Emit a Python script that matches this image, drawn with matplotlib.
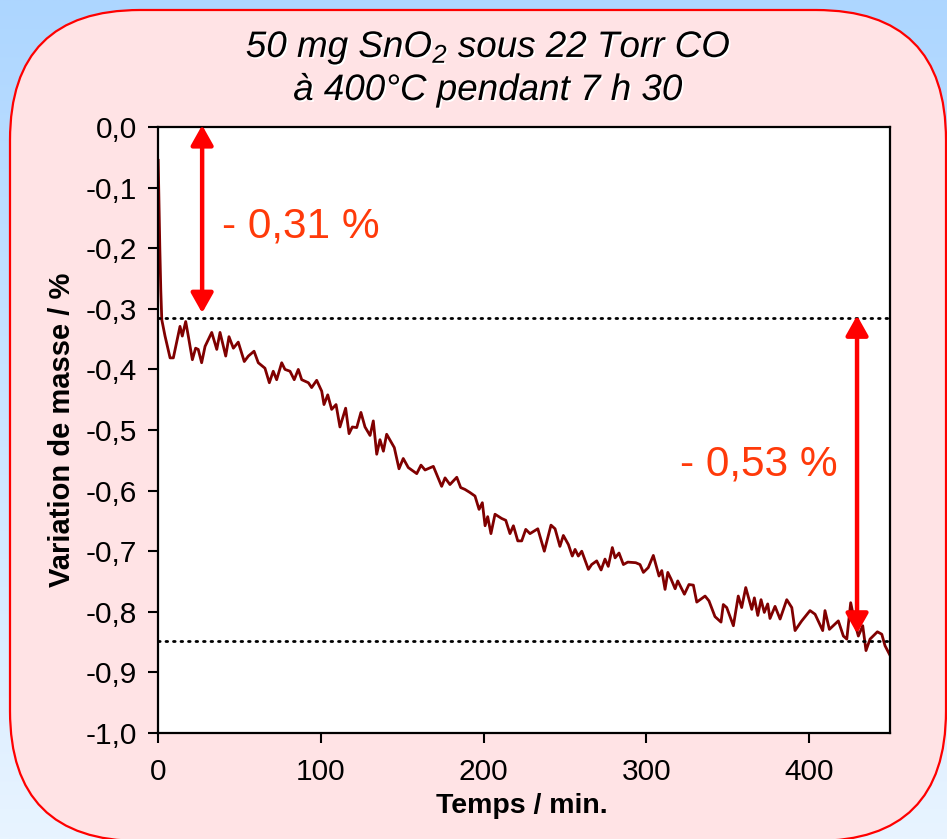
import numpy as np
import matplotlib
matplotlib.use("Agg")
import matplotlib.pyplot as plt
from matplotlib.patches import FancyBboxPatch, FancyArrowPatch
import matplotlib.patheffects as pe

plt.rcParams['font.family'] = ['Liberation Sans', 'DejaVu Sans']
plt.rcParams['mathtext.fontset'] = 'custom'
plt.rcParams['mathtext.rm'] = 'Liberation Sans:italic'
plt.rcParams['mathtext.it'] = 'Liberation Sans:italic'

# ---------------- data ----------------
time_min = [0, 0.3, 1.0, 1.6, 2.2, 4.2, 7.3, 9.3, 13.4, 14.8, 16.9, 18.5, 21.0, 23.0, 24.6, 26.7,
            28.8, 32.9, 36.0, 38.0, 41.5, 43.5, 46.2, 49.2, 52.9, 55.4, 58.9, 61.5, 65.6, 68.3,
            70.7, 72.8, 75.9, 77.9, 81.0, 83.6, 86.1, 88.2, 92.3, 94.3, 97.4, 100.5, 101.9, 104.2,
            106.6, 109.3, 111.7, 115.2, 117.3, 119.3, 122.0, 124.6, 127.1, 130.2, 132.2, 134.3,
            136.3, 138.4, 140.4, 145.1, 148.0, 150.6, 153.7, 158.9, 161.5, 164.0, 169.1, 174.2,
            176.3, 179.3, 183.5, 185.9, 188.5, 191.5, 194.7, 197.2, 199.2, 200.9, 202.5, 204.5,
            207.0, 211.1, 213.6, 216.2, 218.3, 221.0, 223.4, 225.9, 228.5, 233.3, 237.3, 241.4,
            243.9, 246.9, 249.0, 252.1, 254.5, 256.2, 258.2, 260.3, 264.4, 266.4, 269.5, 272.2,
            274.6, 276.6, 279.1, 280.8, 283.2, 285.9, 288.6, 293.5, 296.1, 298.2, 301.2, 304.3,
            307.8, 309.5, 311.5, 313.2, 315.2, 317.7, 319.3, 323.4, 326.2, 328.9, 331.0, 336.1,
            338.5, 342.2, 345.9, 347.3, 349.4, 353.5, 356.5, 358.6, 361.1, 364.8, 366.4, 368.5,
            370.5, 372.5, 374.6, 376.0, 379.1, 382.2, 386.3, 389.4, 391.4, 395.5, 400.6, 403.7,
            408.4, 409.8, 412.5, 418.0, 421.1, 423.2, 425.6, 428.3, 430.3, 433.0, 435.0, 437.5,
            442.0, 444.7, 446.7, 450.0]
mass_var = [-0.055, -0.10, -0.20, -0.27, -0.318, -0.345, -0.381, -0.381, -0.329, -0.345, -0.321,
            -0.345, -0.384, -0.365, -0.367, -0.389, -0.362, -0.339, -0.367, -0.339, -0.378, -0.346,
            -0.365, -0.355, -0.387, -0.378, -0.370, -0.389, -0.398, -0.422, -0.403, -0.417, -0.389,
            -0.400, -0.403, -0.417, -0.400, -0.417, -0.422, -0.430, -0.418, -0.436, -0.458, -0.442,
            -0.466, -0.458, -0.495, -0.464, -0.506, -0.495, -0.496, -0.471, -0.495, -0.509, -0.485,
            -0.540, -0.516, -0.535, -0.507, -0.529, -0.564, -0.547, -0.562, -0.572, -0.558, -0.566,
            -0.560, -0.593, -0.579, -0.590, -0.578, -0.595, -0.598, -0.603, -0.609, -0.631, -0.620,
            -0.658, -0.643, -0.671, -0.639, -0.646, -0.649, -0.671, -0.658, -0.683, -0.683, -0.664,
            -0.671, -0.663, -0.700, -0.657, -0.663, -0.692, -0.674, -0.689, -0.708, -0.697, -0.708,
            -0.700, -0.730, -0.722, -0.716, -0.731, -0.713, -0.725, -0.694, -0.711, -0.703, -0.722,
            -0.718, -0.719, -0.722, -0.735, -0.727, -0.707, -0.741, -0.732, -0.763, -0.735, -0.746,
            -0.762, -0.749, -0.771, -0.755, -0.756, -0.784, -0.774, -0.782, -0.808, -0.817, -0.788,
            -0.793, -0.823, -0.774, -0.793, -0.760, -0.796, -0.777, -0.806, -0.780, -0.801, -0.787,
            -0.811, -0.791, -0.812, -0.780, -0.793, -0.831, -0.815, -0.798, -0.804, -0.831, -0.798,
            -0.829, -0.815, -0.840, -0.845, -0.785, -0.820, -0.840, -0.823, -0.864, -0.845, -0.833,
            -0.837, -0.856, -0.873]

x_ticks = [0, 100, 200, 300, 400]
y_ticks = [0.0, -0.1, -0.2, -0.3, -0.4, -0.5, -0.6, -0.7, -0.8, -0.9, -1.0]
y_tick_labels = ["0,0", "-0,1", "-0,2", "-0,3", "-0,4", "-0,5", "-0,6", "-0,7", "-0,8", "-0,9", "-1,0"]

level_upper = -0.316
level_lower = -0.848
arrow1_x, arrow1_y = 27.0, (0.003, -0.307)
arrow2_x, arrow2_y = 429.5, (-0.311, -0.836)
label1 = "- 0,31 %"
label2 = "- 0,53 %"
title1 = "50 mg SnO$_2$ sous 22 Torr CO"
title2 = "à 400°C pendant 7 h 30"
xlabel = "Temps / min."
ylabel = "Variation de masse / %"

# ---------------- figure ----------------
W, H = 947, 839
fig = plt.figure(figsize=(W / 100, H / 100), dpi=100)

bg = fig.add_axes([0, 0, 1, 1], zorder=0)
top = np.array([173, 214, 255]) / 255
bot = np.array([232, 244, 255]) / 255
t = np.linspace(0, 1, 256)[:, None, None]
grad = top * (1 - t) + bot * t
grad = np.repeat(grad, 2, axis=1)
bg.imshow(grad, extent=[0, W, H, 0], aspect='auto', interpolation='bilinear')
bg.set_xlim(0, W)
bg.set_ylim(H, 0)
bg.axis('off')

box = FancyBboxPatch((10, 10), 936, 831, boxstyle="round,pad=0,rounding_size=130",
                     facecolor='#FFE3E5', edgecolor='#FF0000', linewidth=1.6)
bg.add_patch(box)

shadow = [pe.withSimplePatchShadow(offset=(1.2, -1.2), shadow_rgbFace='white', alpha=1.0)]
bg.text(488, 57, title1, ha='center', va='baseline', fontsize=26.5, style='italic',
        path_effects=shadow)
bg.text(488, 100, title2, ha='center', va='baseline', fontsize=26.5, style='italic',
        path_effects=shadow)
bg.text(522, 813, xlabel, ha='center', va='baseline', fontsize=20.5, fontweight='bold')
bg.text(62, 430, ylabel, ha='center', va='center', fontsize=21, fontweight='bold', rotation=90)

ax = fig.add_axes([158.2 / W, 1 - 733 / H, 732.2 / W, 606 / H], zorder=1)
ax.set_facecolor('white')
ax.plot(time_min, mass_var, color='#800000', lw=2.0, zorder=2, solid_joinstyle='round')
ax.set_xlim(0, 450)
ax.set_ylim(-1.0, 0.0)
ax.set_xticks(x_ticks)
ax.set_xticklabels([str(v) for v in x_ticks])
ax.set_yticks(y_ticks)
ax.set_yticklabels(y_tick_labels)
ax.tick_params(axis='both', direction='out', length=7, width=1.5, labelsize=21.5, color='black')
ax.tick_params(axis='y', pad=8)
ax.tick_params(axis='x', pad=11)
for s in ax.spines.values():
    s.set_linewidth(1.6)
    s.set_color('black')

dot = (0, (0.6, 2.1))
ax.axhline(level_upper, color='black', lw=2.0, linestyle=dot, dash_capstyle='round', zorder=3)
ax.axhline(level_lower, color='black', lw=2.0, linestyle=dot, dash_capstyle='round', zorder=3)

for xa, (ya, yb) in [(arrow1_x, arrow1_y), (arrow2_x, arrow2_y)]:
    arr = FancyArrowPatch((xa, ya), (xa, yb), arrowstyle='<|-|>,head_length=0.8,head_width=0.45',
                          mutation_scale=15, color='#FF0000', lw=3.2, shrinkA=0, shrinkB=0,
                          zorder=4, clip_on=False)
    ax.add_patch(arr)

ax.text(39.2, -0.165, label1, ha='left', va='center', fontsize=30.5, color='#FF3A0A', zorder=5)
ax.text(320.7, -0.557, label2, ha='left', va='center', fontsize=30.5, color='#FF3A0A', zorder=5)

fig.savefig('out.png', dpi=100)
